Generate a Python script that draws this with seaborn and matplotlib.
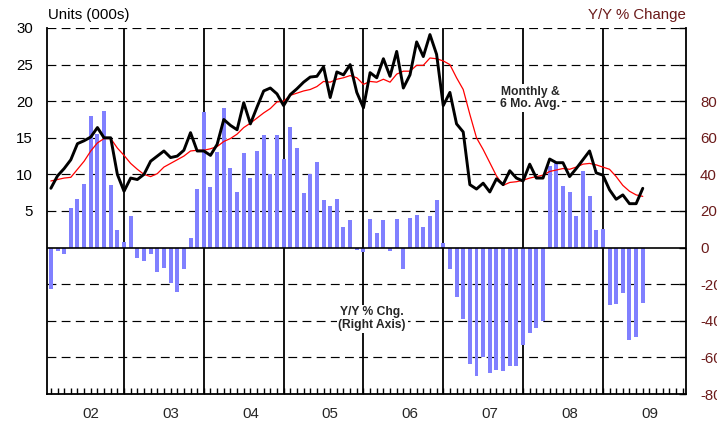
import matplotlib
matplotlib.use("Agg")
import matplotlib.pyplot as plt
import seaborn as sns
import pandas as pd
from matplotlib.ticker import FixedLocator

# ---------------- data ----------------
year_labels = ["02", "03", "04", "05", "06", "07", "08", "09"]

units_2002 = [8.1, 9.8, 10.8, 12.0, 14.2, 14.6, 15.1, 16.4, 15.0, 15.0, 10.0, 7.7]
units_2003 = [9.5, 9.3, 10.0, 11.8, 12.5, 13.2, 12.3, 12.5, 13.3, 15.7, 13.2, 13.2]
units_2004 = [12.6, 14.1, 17.5, 16.7, 16.1, 19.8, 16.9, 19.2, 21.4, 21.8, 21.0, 19.4]
units_2005 = [20.9, 21.7, 22.6, 23.3, 23.4, 24.7, 20.5, 24.0, 23.6, 25.0, 21.2, 19.1]
units_2006 = [23.9, 23.2, 25.8, 23.4, 26.8, 21.8, 23.6, 28.1, 26.1, 29.1, 26.4, 19.4]
units_2007 = [21.2, 16.9, 15.8, 8.6, 8.0, 8.8, 7.6, 9.4, 8.6, 10.5, 9.5, 9.1]
units_2008 = [11.4, 9.5, 9.5, 12.1, 11.6, 11.6, 9.7, 10.8, 12.0, 13.2, 10.2, 9.9]
units_2009 = [7.9, 6.6, 7.2, 6.0, 6.0, 8.1]

avg_2002 = [9.1, 9.3, 9.5, 9.6, 10.7, 11.8, 13.2, 14.3, 14.9, 14.9, 13.6, 12.6]
avg_2003 = [11.5, 10.7, 10.0, 9.7, 10.1, 11.0, 11.5, 12.0, 12.5, 13.2, 13.3, 13.3]
avg_2004 = [13.5, 13.8, 14.5, 14.9, 15.5, 16.4, 17.0, 17.7, 18.4, 19.0, 19.9, 20.0]
avg_2005 = [20.8, 21.1, 21.4, 21.6, 22.0, 22.7, 22.6, 23.0, 23.2, 23.5, 23.2, 22.3]
avg_2006 = [22.7, 22.6, 23.0, 22.6, 23.7, 24.1, 24.1, 24.9, 24.9, 25.9, 25.8, 25.5]
avg_2007 = [25.0, 23.2, 21.6, 18.2, 15.0, 13.4, 11.6, 9.8, 8.5, 8.9, 9.0, 9.2]
avg_2008 = [9.5, 9.7, 9.9, 10.4, 10.6, 10.8, 10.7, 11.0, 11.4, 11.5, 11.3, 11.0]
avg_2009 = [10.7, 9.7, 8.5, 7.7, 7.2, 7.0]

yoy_2002 = [-22.7, -1.8, -3.6, 21.8, 26.7, 34.9, 71.8, 62.0, 74.9, 34.4, 9.5, 3.3]
yoy_2003 = [17.3, -5.8, -7.3, -3.6, -13.6, -10.9, -19.6, -24.0, -11.5, 5.1, 32.2, 74.2]
yoy_2004 = [33.3, 52.5, 76.4, 43.6, 30.4, 51.8, 37.8, 52.7, 61.3, 40.4, 61.3, 48.5]
yoy_2005 = [65.8, 54.4, 29.6, 40.4, 46.7, 25.8, 22.7, 26.7, 11.3, 15.1, -1.3, -2.4]
yoy_2006 = [15.8, 8.2, 15.1, -1.8, 15.8, -11.8, 16.4, 17.6, 11.5, 17.3, 26.0, 2.4]
yoy_2007 = [-11.5, -26.9, -39.1, -63.6, -70.4, -60.0, -68.7, -66.9, -67.3, -64.5, -64.5, -53.3]
yoy_2008 = [-46.7, -43.8, -40.0, 44.7, 46.4, 33.6, 30.5, 17.3, 41.8, 28.2, 9.6, 10.2]
yoy_2009 = [-31.5, -30.9, -24.9, -50.4, -49.1, -30.4]

monthly_units = (units_2002 + units_2003 + units_2004 + units_2005 +
                 units_2006 + units_2007 + units_2008 + units_2009)
avg_6mo = (avg_2002 + avg_2003 + avg_2004 + avg_2005 +
           avg_2006 + avg_2007 + avg_2008 + avg_2009)
yoy_pct = (yoy_2002 + yoy_2003 + yoy_2004 + yoy_2005 +
           yoy_2006 + yoy_2007 + yoy_2008 + yoy_2009)

month_index = list(range(1, len(monthly_units) + 1))   # Jan-2002 = 1 (month end)
df = pd.DataFrame({"m": month_index, "units": monthly_units,
                   "avg": avg_6mo, "yoy": yoy_pct})

# ---------------- styling ----------------
sns.set_theme(style="white")
plt.rcParams["font.family"] = ["Liberation Sans", "DejaVu Sans"]

W, H = 717, 424
fig = plt.figure(figsize=(W / 100, H / 100), dpi=100)
fig.patch.set_facecolor("white")
L, R, T, B = 47, 686, 28, 394
ax = fig.add_axes([L / W, 1 - B / H, (R - L) / W, (B - T) / H])
axr = ax.twinx()
ax.set_zorder(axr.get_zorder() + 1)
ax.patch.set_visible(False)

maroon = "#6b1a1a"

# grid lines (right-axis coordinates), year separators
for v in [-60, -40, -20, 20, 40, 60, 80, 100, 120]:
    axr.axhline(v, color="black", lw=0.85, ls=(0, (7.5, 4.5)), zorder=0)
for k in range(1, 8):
    axr.axvline(12 * k, color="black", lw=1.3, zorder=0.5)

# bars: Y/Y % change (right axis)
sns.barplot(data=df, x="m", y="yoy", native_scale=True, color="#8080ff",
            saturation=1, width=0.6, errorbar=None, linewidth=0,
            ax=axr, zorder=2)
axr.axhline(0, color="black", lw=1.2, zorder=3)

# lines: monthly units and 6-month average (left axis)
sns.lineplot(data=df, x="m", y="avg", color="red", lw=0.9, ax=ax)
sns.lineplot(data=df, x="m", y="units", color="black", lw=2.1, ax=ax)

# limits
ax.set_xlim(0.42, 96.5)
ax.set_ylim(-20, 30)
axr.set_ylim(-80, 120)

# left axis ticks
ax.yaxis.set_major_locator(FixedLocator([5, 10, 15, 20, 25, 30]))
ax.set_yticklabels(["5", "10", "15", "20", "25", "30"])
ax.tick_params(axis="y", which="major", direction="in", length=0,
               pad=10, labelsize=10.8, colors="black")

# right axis ticks
axr.yaxis.set_major_locator(FixedLocator(list(range(-80, 121, 20))))
axr.set_yticklabels([str(v) if v <= 80 else "" for v in range(-80, 121, 20)])
axr.tick_params(axis="y", which="major", direction="in", length=5, width=1,
                pad=10, labelsize=10.8, labelcolor=maroon, color="black")

# x axis: minor month ticks, year labels
ax.xaxis.remove_overlapping_locs = False
ax.xaxis.set_major_locator(FixedLocator([7 + 12 * k for k in range(8)]))
ax.set_xticklabels(year_labels)
ax.xaxis.set_minor_locator(FixedLocator(list(range(1, 97))))
ax.tick_params(axis="x", which="major", length=0, pad=9.5, labelsize=10.8)
ax.tick_params(axis="x", which="minor", direction="in", length=4, width=1,
               color="black", bottom=True)

for a in (ax, axr):
    a.set_xlabel("")
    a.set_ylabel("")
    a.spines["top"].set_visible(False)
ax.spines["right"].set_visible(False)
axr.spines["left"].set_visible(False)
axr.spines["bottom"].set_visible(False)
for name in ("left", "bottom"):
    ax.spines[name].set_color("black")
    ax.spines[name].set_linewidth(1.3)
axr.spines["right"].set_color("black")
axr.spines["right"].set_linewidth(1.3)

# annotations
box = dict(facecolor="white", edgecolor="none", boxstyle="square,pad=0.15")
ax.text(73.06, 20.4, "Monthly &\n6 Mo. Avg.", ha="center", va="center",
        multialignment="center", fontsize=8.7, fontweight="bold",
        linespacing=1.05, bbox=box, zorder=5)
ax.text(49.3, -9.7, "Y/Y % Chg.\n(Right Axis)", ha="center", va="center",
        multialignment="center", fontsize=8.7, fontweight="bold",
        linespacing=1.05, bbox=box, zorder=5)

fig.text(48 / W, 1 - 15 / H, "Units (000s)", ha="left", va="center",
         fontsize=10.8, color="black")
fig.text(686 / W, 1 - 15 / H, "Y/Y % Change", ha="right", va="center",
         fontsize=10.8, color=maroon)

fig.savefig("out.png", dpi=100, facecolor="white")
